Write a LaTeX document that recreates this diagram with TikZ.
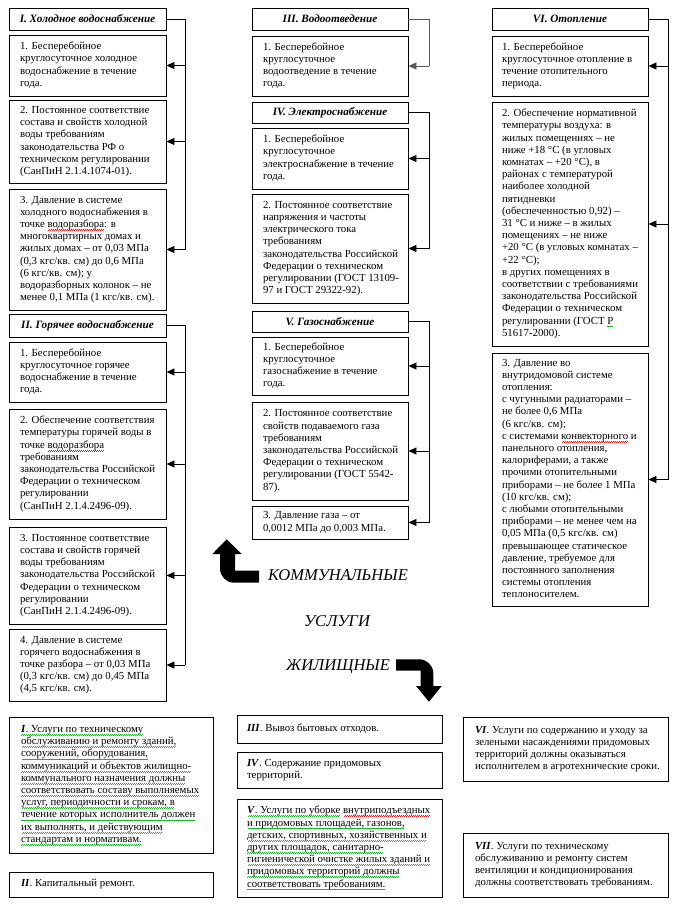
\documentclass[tikz,border=0pt]{standalone}
\usepackage{fontspec}
\setmainfont{Liberation Serif}
\usetikzlibrary{arrows.meta}
\definecolor{spgreen}{RGB}{20,185,40}
\definecolor{spred}{RGB}{235,20,20}
\newsavebox\gwbox
\newsavebox\rwbox
\newlength\wvlen
\newcommand\wvline[2]{\settowidth\wvlen{#2}\leavevmode\rlap{\raisebox{-3.2pt}{\makebox[\wvlen][l]{\cleaders\copy#1\hfill}}}#2}
\newcommand\gw[1]{\wvline{\gwbox}{#1}}
\newcommand\rw[1]{\wvline{\rwbox}{#1}}
\newcommand\tx[2]{\makebox[#1][l]{\begin{tabular}{@{}l@{}}#2\end{tabular}}}
\newcommand\bodyf{\fontsize{10.8}{12.2}\selectfont}
\newcommand\ttlf{\fontsize{11.2}{12}\selectfont\bfseries\itshape}
\newcommand\rn[1]{\textbf{\textit{#1}}}
\begin{document}
\sbox\gwbox{\color{spgreen}\rule{1pt}{0.8pt}\rule[0.8pt]{1pt}{0.8pt}}%
\sbox\rwbox{\color{spred}\rule{1pt}{0.8pt}\rule[0.8pt]{1pt}{0.8pt}}%
\begin{tikzpicture}[x=1pt,y=-1pt,
  box/.style={draw, line width=0.9pt, inner sep=0pt, font=\bodyf},
  ttl/.style={box, font=\ttlf},
  conn/.style={line width=0.9pt},
  arr/.style={line width=0.9pt, -{Triangle[length=8pt,width=7pt]}},
  big/.style={inner sep=0pt, font=\fontsize{16.5}{18}\selectfont\itshape},
  bigarrow/.style={fill=black}]
\fill[white] (0,0) rectangle (673,906);
\useasboundingbox (0,0) rectangle (673,906);

% ---------- Column 1 ----------
\node[ttl, minimum width=157pt, minimum height=22pt] (t1) at (87.5,19) {I. Холодное водоснабжение};
\node[box, minimum width=157pt, minimum height=61pt] (a1) at (87.5,65.5) {\tx{135pt}{1. Бесперебойное\\круглосуточное холодное\\водоснабжение в течение\\года.}};
\node[box, minimum width=157pt, minimum height=83pt] (a2) at (87.5,141.5) {\tx{135pt}{2. Постоянное соответствие\\состава и свойств холодной\\воды требованиям\\законодательства РФ о\\техническом регулировании\\(СанПиН 2.1.4.1074-01).}};
\node[box, minimum width=157pt, minimum height=121pt] (a3) at (87.5,249.5) {\tx{135pt}{3. Давление в системе\\холодного водоснабжения в\\точке \rw{водоразбора}: в\\многоквартирных домах и\\жилых домах – от 0,03 МПа\\(0,3 кгс/кв. см) до 0,6 МПа\\(6 кгс/кв. см); у\\водоразборных колонок – не\\менее 0,1 МПа (1 кгс/кв. см).}};

\node[ttl, minimum width=157pt, minimum height=23pt] (t2) at (87.5,325.5) {II. Горячее водоснабжение};
\node[box, minimum width=157pt, minimum height=60pt] (b1) at (87.5,372) {\tx{135pt}{1. Бесперебойное\\круглосуточное горячее\\водоснабжение в течение\\года.}};
\node[box, minimum width=157pt, minimum height=110pt] (b2) at (87.5,464) {\tx{135pt}{2. Обеспечение соответствия\\температуры горячей воды в\\точке \rw{водоразбора}\\требованиям\\законодательства Российской\\Федерации о техническом\\регулировании\\(СанПиН 2.1.4.2496-09).}};
\node[box, minimum width=157pt, minimum height=97pt] (b3) at (87.5,575.5) {\tx{135pt}{3. Постоянное соответствие\\состава и свойств горячей\\воды требованиям\\законодательства Российской\\Федерации о техническом\\регулировании\\(СанПиН 2.1.4.2496-09).}};
\node[box, minimum width=157pt, minimum height=72pt] (b4) at (87.5,665) {\tx{135pt}{4. Давление в системе\\горячего водоснабжения в\\точке разбора – от 0,03 МПа\\(0,3 кгс/кв. см) до 0,45 МПа\\(4,5 кгс/кв. см).}};

% ---------- Column 2 ----------
\node[ttl, minimum width=156pt, minimum height=22pt] (t3) at (330,19) {III. Водоотведение};
\node[box, minimum width=156pt, minimum height=60pt] (c1) at (330,66) {\tx{134pt}{1. Бесперебойное\\круглосуточное\\водоотведение в течение\\года.}};

\node[ttl, minimum width=156pt, minimum height=21pt] (t4) at (330,112.5) {IV. Электроснабжение};
\node[box, minimum width=156pt, minimum height=61pt] (d1) at (330,158.5) {\tx{134pt}{1. Бесперебойное\\круглосуточное\\электроснабжение в течение\\года.}};
\node[box, minimum width=156pt, minimum height=109pt] (d2) at (330,248.5) {\tx{134pt}{2. Постоянное соответствие\\напряжения и частоты\\электрического тока\\требованиям\\законодательства Российской\\Федерации о техническом\\регулировании (ГОСТ 13109-\\97 и ГОСТ 29322-92).}};

\node[ttl, minimum width=156pt, minimum height=21pt] (t5) at (330,321.5) {V. Газоснабжение};
\node[box, minimum width=156pt, minimum height=58pt] (e1) at (330,366) {\tx{134pt}{1. Бесперебойное\\круглосуточное\\газоснабжение в течение\\года.}};
\node[box, minimum width=156pt, minimum height=98pt] (e2) at (330,451) {\tx{134pt}{2. Постоянное соответствие\\свойств подаваемого газа\\требованиям\\законодательства Российской\\Федерации о техническом\\регулировании (ГОСТ 5542-\\87).}};
\node[box, minimum width=156pt, minimum height=33pt] (e3) at (330,522.5) {\tx{134pt}{3. Давление газа – от\\0,0012 МПа до 0,003 МПа.}};

% ---------- Column 3 ----------
\node[ttl, minimum width=156pt, minimum height=22pt] (t6) at (570,19) {VI. Отопление};
\node[box, minimum width=156pt, minimum height=60pt] (f1) at (570,66) {\tx{136pt}{1. Бесперебойное\\круглосуточное отопление в\\течение отопительного\\периода.}};
\node[box, minimum width=156pt, minimum height=244pt] (f2) at (570,224) {\tx{136pt}{2. Обеспечение нормативной\\температуры воздуха: в\\жилых помещениях – не\\ниже +18 °С (в угловых\\комнатах – +20 °С), в\\районах с температурой\\наиболее холодной\\пятидневки\\(обеспеченностью 0,92) –\\31 °С и ниже – в жилых\\помещениях – не ниже\\+20 °С (в угловых комнатах –\\+22 °С);\\в других помещениях в\\соответствии с требованиями\\законодательства Российской\\Федерации о техническом\\регулировании (ГОСТ \gw{Р}\\51617-2000).}};
\node[box, minimum width=156pt, minimum height=253pt] (f3) at (570,479.5) {\tx{136pt}{3. Давление во\\внутридомовой системе\\отопления:\\с чугунными радиаторами –\\не более 0,6 МПа\\(6 кгс/кв. см);\\с системами \rw{конвекторного} и\\панельного отопления,\\калориферами, а также\\прочими отопительными\\приборами – не более 1 МПа\\(10 кгс/кв. см);\\с любыми отопительными\\приборами – не менее чем на\\0,05 МПа (0,5 кгс/кв. см)\\превышающее статическое\\давление, требуемое для\\постоянного заполнения\\системы отопления\\теплоносителем.}};

% ---------- Connectors ----------
\draw[conn] (t1.east) -- ++(19,0) coordinate (k1) -- (k1 |- a3.east);
\foreach \n in {a1,a2,a3} \draw[arr] (k1 |- \n.east) -- (\n.east);
\draw[conn] (t2.east) -- ++(19,0) coordinate (k2) -- (k2 |- b4.east);
\foreach \n in {b1,b2,b3,b4} \draw[arr] (k2 |- \n.east) -- (\n.east);
\draw[conn, black!65] (t3.east) -- ++(21,0) coordinate (k3) -- (k3 |- c1.east);
\draw[arr, black!65] (k3 |- c1.east) -- (c1.east);
\draw[conn] (t4.east) -- ++(21,0) coordinate (k4) -- (k4 |- d2.east);
\foreach \n in {d1,d2} \draw[arr] (k4 |- \n.east) -- (\n.east);
\draw[conn] (t5.east) -- ++(21,0) coordinate (k5) -- (k5 |- e3.east);
\foreach \n in {e1,e2,e3} \draw[arr] (k5 |- \n.east) -- (\n.east);
\draw[conn] (t6.east) -- ++(20,0) coordinate (k6) -- (k6 |- f3.east);
\foreach \n in {f1,f2,f3} \draw[arr] (k6 |- \n.east) -- (\n.east);

% ---------- Central labels and bent arrows ----------
\fill[bigarrow] (226.7,539.3) -- (241.7,554) -- (235,554) -- (235,570.7) -- (259,570.7) -- (259,582.7) -- (234,582.7) .. controls (226.3,582.7) and (220,576.4) .. (220,568.7) -- (220,554) -- (212.3,554) -- cycle;
\node[big, anchor=base west] (lk) at (268,580.7) {КОММУНАЛЬНЫЕ};
\node[big, anchor=base] (lu) at (337,626) {УСЛУГИ};
\node[big, anchor=base west] (lz) at (286,670) {ЖИЛИЩНЫЕ};
\fill[bigarrow] (396,659.3) -- (419.3,659.3) .. controls (427,659.3) and (433.3,665.6) .. (433.3,673.3) -- (433.3,686) -- (441.7,686) -- (429,701.7) -- (416,686) -- (420.7,686) -- (420.7,670.7) -- (396,670.7) -- cycle;

% ---------- Bottom boxes ----------
\node[box, minimum width=204pt, minimum height=136pt] (g1) at (111,785) {\tx{180pt}{\gw{\rn{I}. Услуги по техническому}\\\gw{обслуживанию и ремонту зданий,}\\\gw{сооружений, оборудования,}\\\gw{коммуникаций и объектов жилищно-}\\\gw{коммунального назначения должны}\\\gw{соответствовать составу выполняемых}\\\gw{услуг, периодичности и срокам, в}\\\gw{течение которых исполнитель должен}\\\gw{их выполнять, и действующим}\\\gw{стандартам и нормативам.}}};
\node[box, minimum width=204pt, minimum height=25pt] (g2) at (111,884.5) {\tx{180pt}{\rn{II}. Капитальный ремонт.}};
\node[box, minimum width=205pt, minimum height=28pt] (g3) at (339.5,729) {\tx{185pt}{\rn{III}. Вывоз бытовых отходов.}};
\node[box, minimum width=205pt, minimum height=36pt] (g4) at (339.5,770) {\tx{185pt}{\rn{IV}. Содержание придомовых\\территорий.}};
\node[box, minimum width=205pt, minimum height=98pt] (g5) at (339.5,848) {\tx{185pt}{\gw{\rn{V}. Услуги по уборке} \rw{внутриподъездных}\\\gw{и придомовых площадей, газонов,}\\\gw{детских, спортивных, хозяйственных и}\\\gw{других площадок, санитарно-}\\\gw{гигиенической очистке жилых зданий и}\\\gw{придомовых территорий должны}\\\gw{соответствовать требованиям.}}};
\node[box, minimum width=205pt, minimum height=64pt] (g6) at (565.5,749) {\tx{181pt}{\rn{VI}. Услуги по содержанию и уходу за\\зелеными насаждениями придомовых\\территорий должны оказываться\\исполнителем в агротехнические сроки.}};
\node[box, minimum width=205pt, minimum height=64pt] (g7) at (565.5,865) {\tx{181pt}{\rn{VII}. Услуги по техническому\\обслуживанию и ремонту систем\\вентиляции и кондиционирования\\должны соответствовать требованиям.}};
\end{tikzpicture}
\end{document}
